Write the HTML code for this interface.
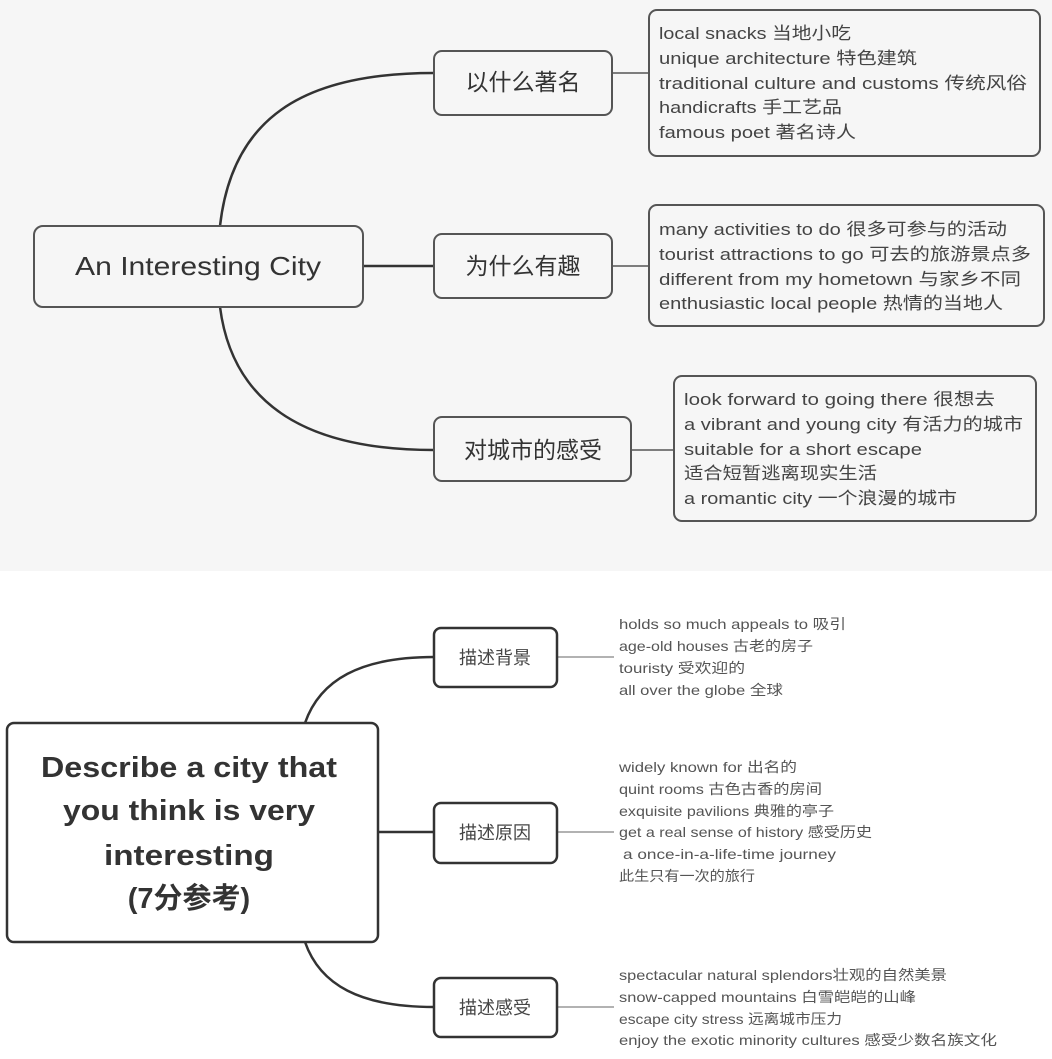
<!DOCTYPE html>
<html><head><meta charset="utf-8"><style>
html,body{margin:0;padding:0;background:#fff;}
svg{display:block;}
text{font-family:"Liberation Sans","Noto Sans CJK SC",sans-serif;}
</style></head><body>
<svg width="1052" height="1059" viewBox="0 0 1052 1059" xmlns="http://www.w3.org/2000/svg">
<rect x="0" y="0" width="1052" height="571" fill="#f6f6f6"/>
<!-- TOP -->
<g fill="none" stroke="#333" stroke-width="2.5">
<path d="M220,226 C232,120 300,73 434,73"/>
<path d="M363,266 L434,266"/>
<path d="M220,307 C232,400 300,450 434,450"/>
</g>
<g stroke="#555" stroke-width="1.5">
<line x1="612" y1="73" x2="650" y2="73"/>
<line x1="612" y1="266" x2="650" y2="266"/>
<line x1="631" y1="450" x2="674" y2="450"/>
</g>
<g fill="#f6f6f6" stroke="#555" stroke-width="2">
<rect x="34" y="226" width="329" height="81" rx="9"/>
<rect x="434" y="51" width="178" height="64" rx="8"/>
<rect x="434" y="234" width="178" height="64" rx="8"/>
<rect x="434" y="417" width="197" height="64" rx="8"/>
<rect x="649" y="10" width="391" height="146" rx="8"/>
<rect x="649" y="205" width="395" height="121" rx="8"/>
<rect x="674" y="376" width="362" height="145" rx="8"/>
</g>
<g fill="#333">
<text x="198" y="275" font-size="26" text-anchor="middle" textLength="246" lengthAdjust="spacingAndGlyphs">An Interesting City</text>
<text x="523" y="90" font-size="23" text-anchor="middle">以什么著名</text>
<text x="523" y="274" font-size="23" text-anchor="middle">为什么有趣</text>
<text x="533" y="458" font-size="23" text-anchor="middle">对城市的感受</text>
</g>
<g fill="#444" font-size="17">
<text x="659" y="39" textLength="192" lengthAdjust="spacingAndGlyphs">local snacks 当地小吃</text>
<text x="659" y="64" textLength="258" lengthAdjust="spacingAndGlyphs">unique architecture 特色建筑</text>
<text x="659" y="89" textLength="368" lengthAdjust="spacingAndGlyphs">traditional culture and customs  传统风俗</text>
<text x="659" y="113" textLength="183" lengthAdjust="spacingAndGlyphs">handicrafts 手工艺品</text>
<text x="659" y="138" textLength="197" lengthAdjust="spacingAndGlyphs">famous poet 著名诗人</text>
<text x="659" y="235" textLength="348" lengthAdjust="spacingAndGlyphs">many activities to do 很多可参与的活动</text>
<text x="659" y="260" textLength="372" lengthAdjust="spacingAndGlyphs">tourist attractions to go 可去的旅游景点多</text>
<text x="659" y="285" textLength="362" lengthAdjust="spacingAndGlyphs">different from my hometown 与家乡不同</text>
<text x="659" y="309" textLength="344" lengthAdjust="spacingAndGlyphs">enthusiastic local people 热情的当地人</text>
<text x="684" y="405" textLength="311" lengthAdjust="spacingAndGlyphs">look forward to going there 很想去</text>
<text x="684" y="430" textLength="339" lengthAdjust="spacingAndGlyphs">a vibrant and young city 有活力的城市</text>
<text x="684" y="455" textLength="238" lengthAdjust="spacingAndGlyphs">suitable for a short escape</text>
<text x="684" y="479" textLength="193" lengthAdjust="spacingAndGlyphs">适合短暂逃离现实生活</text>
<text x="684" y="504" textLength="273" lengthAdjust="spacingAndGlyphs">a romantic city 一个浪漫的城市</text>
</g>
<!-- BOTTOM -->
<g fill="none" stroke="#333" stroke-width="2.5">
<path d="M305,723 C320,680 360,657 434,657"/>
<path d="M378,832 L434,832"/>
<path d="M305,942 C320,985 360,1007 434,1007"/>
</g>
<g stroke="#999" stroke-width="1.5">
<line x1="557" y1="657" x2="614" y2="657"/>
<line x1="557" y1="832" x2="614" y2="832"/>
<line x1="557" y1="1007" x2="614" y2="1007"/>
</g>
<g fill="#fff" stroke="#333" stroke-width="2.5">
<rect x="7" y="723" width="371" height="219" rx="7"/>
<rect x="434" y="628" width="123" height="59" rx="7"/>
<rect x="434" y="803" width="123" height="60" rx="7"/>
<rect x="434" y="978" width="123" height="59" rx="7"/>
</g>
<g fill="#333" font-weight="bold" font-size="29" text-anchor="middle">
<text x="189" y="777" textLength="296" lengthAdjust="spacingAndGlyphs">Describe a city that</text>
<text x="189" y="820" textLength="252" lengthAdjust="spacingAndGlyphs">you think is very</text>
<text x="189" y="865" textLength="170" lengthAdjust="spacingAndGlyphs">interesting</text>
<text x="189" y="908">(7分参考)</text>
</g>
<g fill="#444" font-size="18" text-anchor="middle">
<text x="495" y="664">描述背景</text>
<text x="495" y="839">描述原因</text>
<text x="495" y="1014">描述感受</text>
</g>
<g fill="#555" font-size="14">
<text x="619" y="629" textLength="227" lengthAdjust="spacingAndGlyphs">holds so much appeals to 吸引</text>
<text x="619" y="651" textLength="194" lengthAdjust="spacingAndGlyphs">age-old houses 古老的房子</text>
<text x="619" y="673" textLength="126" lengthAdjust="spacingAndGlyphs">touristy  受欢迎的</text>
<text x="619" y="695" textLength="164" lengthAdjust="spacingAndGlyphs">all over the globe 全球</text>
<text x="619" y="772" textLength="178" lengthAdjust="spacingAndGlyphs">widely known for 出名的</text>
<text x="619" y="794" textLength="203" lengthAdjust="spacingAndGlyphs">quint rooms 古色古香的房间</text>
<text x="619" y="816" textLength="215" lengthAdjust="spacingAndGlyphs">exquisite pavilions 典雅的亭子</text>
<text x="619" y="837" textLength="253" lengthAdjust="spacingAndGlyphs">get a real sense of history 感受历史</text>
<text x="623" y="859" textLength="213" lengthAdjust="spacingAndGlyphs">a once-in-a-life-time journey</text>
<text x="619" y="881" textLength="136" lengthAdjust="spacingAndGlyphs">此生只有一次的旅行</text>
<text x="619" y="980" textLength="328" lengthAdjust="spacingAndGlyphs">spectacular natural splendors壮观的自然美景</text>
<text x="619" y="1002" textLength="297" lengthAdjust="spacingAndGlyphs">snow-capped mountains 白雪皑皑的山峰</text>
<text x="619" y="1024" textLength="223" lengthAdjust="spacingAndGlyphs">escape city stress 远离城市压力</text>
<text x="619" y="1045" textLength="378" lengthAdjust="spacingAndGlyphs">enjoy the exotic minority cultures  感受少数名族文化</text>
</g>
</svg>
</body></html>
